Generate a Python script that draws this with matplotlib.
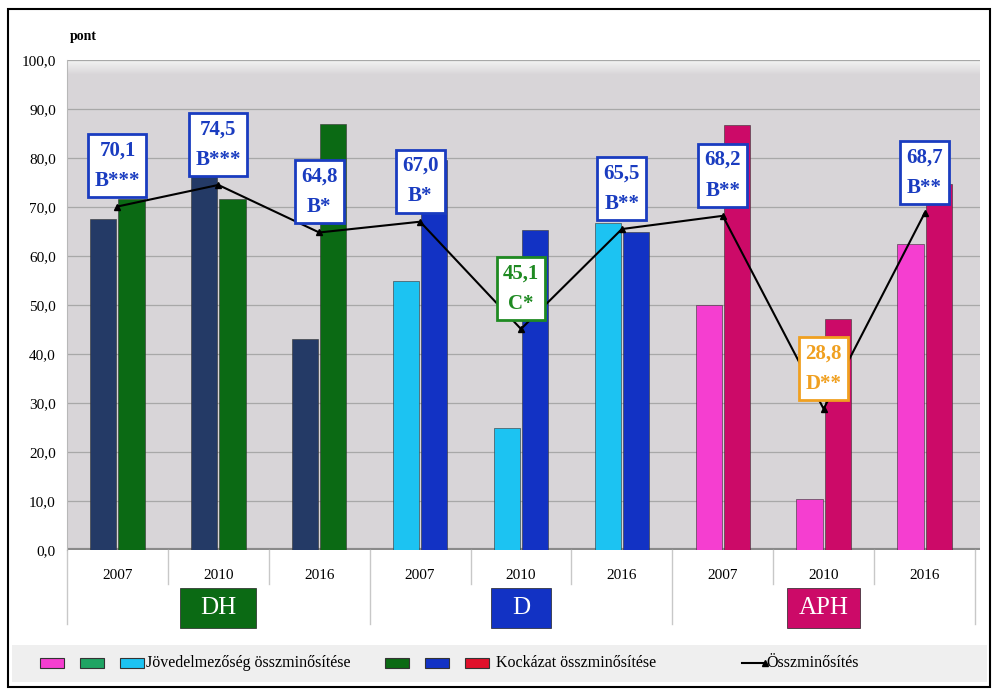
import matplotlib.pyplot as plt
import numpy as np
from matplotlib.patches import Rectangle
from matplotlib.lines import Line2D
from matplotlib.colors import LinearSegmentedColormap

plt.rcParams['font.family'] = ['Liberation Serif', 'DejaVu Serif']

# data
years = ["2007", "2010", "2016"] * 3
groups = ["DH", "D", "APH"]
jovedelem = [67.5, 77.0, 43.0, 55.0, 25.0, 66.7, 49.9, 10.5, 62.5]
kockazat = [71.6, 71.6, 87.0, 79.5, 65.3, 65.0, 86.8, 47.2, 74.6]
osszes = [70.1, 74.5, 64.8, 67.0, 45.1, 65.5, 68.2, 28.8, 68.7]
minosites = ["B***", "B***", "B*", "B*", "C*", "B**", "B**", "D**", "B**"]

jov_colors = ["#243a66"] * 3 + ["#1cc3f2"] * 3 + ["#f53ed0"] * 3
koc_colors = ["#0b6a14"] * 3 + ["#1232c4"] * 3 + ["#cc0a68"] * 3
group_colors = ["#0b6a14", "#1232c4", "#cc0a68"]
group_box_w = [0.75, 0.6, 0.72]
label_colors = {"B": "#1a3cc0", "C": "#1f8a22", "D": "#f0a020"}

fig = plt.figure(figsize=(9.98, 6.89), dpi=100)
ax = fig.add_axes([67 / 998, 1 - 550 / 689, 913 / 998, 490 / 689])

x = np.arange(len(years))
w = 0.26
ax.bar(x - w / 2 - 0.01, jovedelem, width=w, color=jov_colors, edgecolor="#333333", linewidth=0.4, zorder=3)
ax.bar(x + w / 2 + 0.01, kockazat, width=w, color=koc_colors, edgecolor="#333333", linewidth=0.4, zorder=3)
ax.plot(x, osszes, color="black", lw=1.5, marker="^", markersize=4, zorder=4)

for xi, v, m in zip(x, osszes, minosites):
    c = label_colors[m[0]]
    ax.annotate(("%.1f" % v).replace(".", ",") + "\n" + m, (xi, v),
                xytext=(0, 11), textcoords="offset points", ha="center", va="bottom",
                fontsize=15, fontweight="bold", color=c, linespacing=1.7, zorder=6,
                bbox=dict(boxstyle="square,pad=0.3", fc="white", ec=c, lw=2))

ax.set_xlim(-0.5, len(years) - 0.5 + 0.05)
ax.set_ylim(0, 100)
ax.set_yticks(np.arange(0, 101, 10))
ax.set_yticklabels([("%.1f" % t).replace(".", ",") for t in np.arange(0, 101, 10)], fontsize=11)
ax.set_facecolor("#d8d5d8")
# light band at the top of the wall
band = LinearSegmentedColormap.from_list("band", ["#d8d5d8", "#f4f4f4"])
ax.imshow(np.linspace(0, 1, 50).reshape(-1, 1), extent=(-0.5, 9.05, 97, 100), aspect="auto",
          cmap=band, origin="lower", zorder=0)
ax.grid(axis="y", color="#a8a8a8", lw=0.9, zorder=1)
ax.set_axisbelow(True)
ax.axhline(0, color="#8a8a8a", lw=3, zorder=2)
ax.tick_params(axis="both", length=0, pad=8)
ax.set_xticks(x)
ax.set_xticklabels(years, fontsize=11)
ax.tick_params(axis="x", pad=14)
for s in ["top", "right", "bottom"]:
    ax.spines[s].set_visible(False)
ax.spines["left"].set_color("#b8b8b8")
ax.text(0.003, 1.035, "pont", transform=ax.transAxes, fontsize=10, fontweight="bold", va="bottom")

# category separators below axis
trans = ax.get_xaxis_transform()
for i in range(len(years) + 1):
    xb = i - 0.5
    low = -0.15 if i % 3 == 0 else -0.07
    ax.plot([xb, xb], [0, low], transform=trans, color="#c8c8c8", lw=1, clip_on=False)

for gi, (g, gc, bw) in enumerate(zip(groups, group_colors, group_box_w)):
    cx = gi * 3 + 1
    ax.add_patch(Rectangle((cx - bw / 2, -0.16), bw, 0.082, transform=trans, fc=gc,
                           ec="#222222", lw=0.5, clip_on=False, zorder=5))
    ax.text(cx, -0.119, g, transform=trans, ha="center", va="center",
            fontsize=18, color="white", zorder=6)

# legend strip
fig.patches.append(Rectangle((12 / 998, 1 - 682 / 689), 975 / 998, 37 / 689,
                             transform=fig.transFigure, fc="#efefef", ec="none", zorder=0))
ly = 1 - 663 / 689
sw_w, sw_h = 24 / 998, 10 / 689
for xs, col in [(40, "#f53ed0"), (80, "#1fa463"), (120, "#1cc3f2"),
                (385, "#0b6a14"), (425, "#1232c4"), (465, "#e0102a")]:
    fig.patches.append(Rectangle((xs / 998, ly - sw_h / 2), sw_w, sw_h, transform=fig.transFigure,
                                 fc=col, ec="#333333", lw=0.8, zorder=2))
fig.text(146 / 998, ly, "Jövedelmezőség összminősítése", fontsize=11.5, va="center")
fig.text(496 / 998, ly, "Kockázat összminősítése", fontsize=11.5, va="center")
fig.lines.append(Line2D([742 / 998, 765 / 998], [ly, ly], transform=fig.transFigure,
                        color="black", lw=1.5, marker="^", markersize=4, markevery=[1]))
fig.text(766 / 998, ly, "Összminősítés", fontsize=11.5, va="center")

# outer frame
fig.patches.append(Rectangle((8 / 998, 2 / 689), 982 / 998, 678 / 689, transform=fig.transFigure,
                             fill=False, ec="black", lw=1.5, zorder=5))

fig.savefig("out.png", dpi=100)
